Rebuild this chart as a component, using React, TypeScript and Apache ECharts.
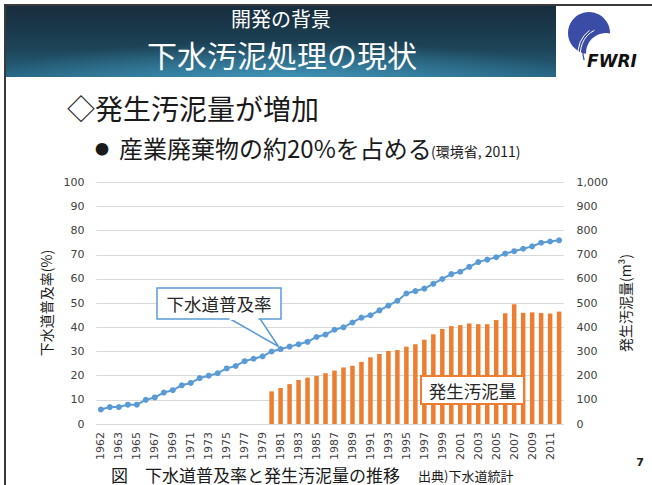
import React, { useEffect, useRef } from "react";
import * as echarts from "echarts";

const years = [
  "1962", "", "1963", "1964", "1965", "1966", "1967", "1968", "1969", "1970",
  "1971", "1972", "1973", "1974", "1975", "1976", "1977", "1978", "1979", "1980",
  "1981", "1982", "1983", "1984", "1985", "1986", "1987", "1988", "1989", "1990",
  "1991", "1992", "1993", "1994", "1995", "1996", "1997", "1998", "1999", "2000",
  "2001", "2002", "2003", "2004", "2005", "2006", "2007", "2008", "2009", "2010",
  "2011", "2012",
];

const sewerRate = [
  6, 7, 7, 8, 8, 10, 11, 13, 14, 16,
  17, 19, 20, 21, 23, 24, 26, 27, 28, 30,
  31, 32, 33, 34, 36, 37, 39, 40, 42, 44,
  45, 47, 49, 51, 54, 55, 56, 58, 60, 62,
  63, 65, 67, 68, 69, 70.5, 71.5, 72.5, 73.5, 75,
  75.5, 76,
];

const sludge = [
  null, null, null, null, null, null, null, null, null, null,
  null, null, null, null, null, null, null, null, null, 135,
  149, 165, 182, 192, 199, 210, 221, 234, 241, 257,
  276, 290, 302, 306, 320, 330, 349, 371, 393, 405,
  409, 416, 413, 413, 430, 458, 495, 460, 462, 459,
  457, 465,
];

const leftTicks = { min: 0, max: 100, interval: 10 };
const rightTicks = { min: 0, max: 1000, interval: 100 };

const JP = "'Noto Sans CJK JP', 'Noto Sans', sans-serif";
const NUM = "'DejaVu Sans', 'Noto Sans CJK JP', sans-serif";

export default function App() {
  const ref = useRef<HTMLDivElement>(null);

  useEffect(() => {
    if (!ref.current) return;
    const chart = echarts.init(ref.current, null, { renderer: "svg" });

    const graphics: any[] = [
      // slide frame
      { type: "line", shape: { x1: 4, y1: 5, x2: 652, y2: 5 }, style: { stroke: "#3a3a3a", lineWidth: 2 }, z: 50 },
      { type: "line", shape: { x1: 5, y1: 4, x2: 5, y2: 485 }, style: { stroke: "#3a3a3a", lineWidth: 2 }, z: 50 },
      // header band
      {
        type: "rect",
        shape: { x: 6, y: 6, width: 550, height: 71 },
        style: {
          fill: {
            type: "linear", x: 0, y: 0, x2: 0, y2: 1,
            colorStops: [
              { offset: 0, color: "#172d3d" },
              { offset: 0.6, color: "#1d4458" },
              { offset: 1, color: "#266683" },
            ],
          },
        },
        z: 10,
      },
      {
        type: "rect",
        shape: { x: 6, y: 6, width: 550, height: 71 },
        style: {
          fill: {
            type: "radial", x: 0.5, y: 1.05, r: 0.55,
            colorStops: [
              { offset: 0, color: "rgba(80,175,215,0.65)" },
              { offset: 1, color: "rgba(80,175,215,0)" },
            ],
          },
        },
        z: 11,
      },
      {
        type: "text", x: 281, y: 18, z: 12,
        style: { text: "開発の背景", fill: "#ffffff", font: `20px ${JP}`, align: "center", verticalAlign: "middle" },
      },
      {
        type: "text", x: 282, y: 54, z: 12,
        style: { text: "下水汚泥処理の現状", fill: "#ffffff", font: `30px ${JP}`, align: "center", verticalAlign: "middle" },
      },
      // logo
      { type: "circle", shape: { cx: 589, cy: 33, r: 21 }, style: { fill: "#3b4ca6" }, z: 12 },
      { type: "circle", shape: { cx: 606, cy: 53, r: 20 }, style: { fill: "#ffffff" }, z: 13 },
      { type: "arc", shape: { cx: 606, cy: 53, r: 23, startAngle: Math.PI * 0.9, endAngle: Math.PI * 1.45 }, style: { stroke: "#3b4ca6", lineWidth: 1.3, fill: "none" }, z: 14 },
      { type: "arc", shape: { cx: 606, cy: 53, r: 25.5, startAngle: Math.PI * 0.9, endAngle: Math.PI * 1.35 }, style: { stroke: "#ffffff", lineWidth: 1, fill: "none" }, z: 14 },
      { type: "arc", shape: { cx: 606, cy: 53, r: 28, startAngle: Math.PI * 0.95, endAngle: Math.PI * 1.3 }, style: { stroke: "#ffffff", lineWidth: 1, fill: "none" }, z: 14 },
      {
        type: "text", x: 612, y: 61, z: 15,
        style: { text: "FWRI", fill: "#111111", font: `italic bold 17px 'DejaVu Sans', sans-serif`, align: "center", verticalAlign: "middle" },
      },
      // headings
      {
        type: "text", x: 67, y: 108, z: 12,
        style: { text: "◇発生汚泥量が増加", fill: "#1a1a1a", font: `28px ${JP}`, align: "left", verticalAlign: "middle" },
      },
      {
        type: "text", x: 102, y: 148, z: 12,
        style: { text: "●", fill: "#1a1a1a", font: `14px ${JP}`, align: "center", verticalAlign: "middle" },
      },
      {
        type: "text", x: 119, y: 147, z: 12,
        style: { text: "産業廃棄物の約20%を占める", fill: "#1a1a1a", font: `24px ${JP}`, align: "left", verticalAlign: "middle" },
      },
      {
        type: "text", x: 431, y: 151, z: 12,
        style: { text: "(環境省, 2011)", fill: "#1a1a1a", font: `14px ${JP}`, align: "left", verticalAlign: "middle" },
      },
      // axis names
      {
        type: "text", x: 46, y: 303, rotation: Math.PI / 2, z: 12,
        style: { text: "下水道普及率(%)", fill: "#1a1a1a", font: `14px ${JP}`, align: "center", verticalAlign: "middle" },
      },
      {
        type: "text", x: 625, y: 303, rotation: Math.PI / 2, z: 12,
        style: { text: "発生汚泥量(m³)", fill: "#1a1a1a", font: `14px ${JP}`, align: "center", verticalAlign: "middle" },
      },
      // caption
      {
        type: "text", x: 111, y: 474, z: 12,
        style: { text: "図　下水道普及率と発生汚泥量の推移", fill: "#1a1a1a", font: `17px ${JP}`, align: "left", verticalAlign: "middle" },
      },
      {
        type: "text", x: 418, y: 475, z: 12,
        style: { text: "出典)下水道統計", fill: "#1a1a1a", font: `13px ${JP}`, align: "left", verticalAlign: "middle" },
      },
      {
        type: "text", x: 640, y: 462, z: 12,
        style: { text: "7", fill: "#1a1a1a", font: `bold 11px 'DejaVu Sans', sans-serif`, align: "center", verticalAlign: "middle" },
      },
      // callout: 下水道普及率
      {
        type: "polygon", z: 100,
        shape: { points: [[228.5, 318], [278.5, 346.5], [259.5, 318]] },
        style: { fill: "#ffffff", stroke: "#5b9bd5", lineWidth: 1.5 },
      },
      {
        type: "rect", z: 101,
        shape: { x: 157, y: 288, width: 124, height: 31 },
        style: { fill: "#ffffff", stroke: "#5b9bd5", lineWidth: 1.5 },
      },
      {
        type: "rect", z: 102,
        shape: { x: 229.5, y: 317, width: 29, height: 3 },
        style: { fill: "#ffffff" },
      },
      {
        type: "text", x: 219, y: 303.5, z: 103,
        style: { text: "下水道普及率", fill: "#262626", font: `17.5px ${JP}`, align: "center", verticalAlign: "middle" },
      },
      // callout: 発生汚泥量
      {
        type: "rect", z: 101,
        shape: { x: 421, y: 376, width: 103, height: 28 },
        style: { fill: "#ffffff", stroke: "#ed7d31", lineWidth: 2 },
      },
      {
        type: "text", x: 472.5, y: 390, z: 103,
        style: { text: "発生汚泥量", fill: "#262626", font: `17.5px ${JP}`, align: "center", verticalAlign: "middle" },
      },
    ];

    chart.setOption({
      animation: false,
      backgroundColor: "#ffffff",
      grid: { left: 96.4, right: 88.4, top: 182.3, bottom: 61, containLabel: false },
      xAxis: {
        type: "category",
        data: years,
        boundaryGap: true,
        axisLine: { lineStyle: { color: "#d9d9d9", width: 1 } },
        axisTick: { show: false },
        axisLabel: {
          interval: 1,
          rotate: 90,
          margin: 8,
          color: "#404040",
          fontSize: 11,
          fontFamily: NUM,
        },
      },
      yAxis: [
        {
          type: "value",
          ...leftTicks,
          axisLine: { show: false },
          axisTick: { show: false },
          splitLine: { lineStyle: { color: "#d9d9d9", width: 1 } },
          axisLabel: { margin: 12, color: "#404040", fontSize: 11, fontFamily: NUM },
        },
        {
          type: "value",
          ...rightTicks,
          position: "right",
          axisLine: { show: false },
          axisTick: { show: false },
          splitLine: { show: false },
          axisLabel: {
            margin: 13,
            color: "#404040",
            fontSize: 11,
            fontFamily: NUM,
            formatter: (v: number) => v.toLocaleString("en-US"),
          },
        },
      ],
      series: [
        {
          name: "発生汚泥量",
          type: "bar",
          yAxisIndex: 1,
          data: sludge,
          barWidth: "50%",
          itemStyle: { color: "#ed7d31" },
          z: 2,
        },
        {
          name: "下水道普及率",
          type: "line",
          yAxisIndex: 0,
          data: sewerRate,
          symbol: "circle",
          symbolSize: 6,
          showAllSymbol: true,
          lineStyle: { color: "#5b9bd5", width: 2 },
          itemStyle: { color: "#5b9bd5" },
          z: 3,
        },
      ],
      graphic: graphics,
    });

    return () => chart.dispose();
  }, []);

  return (
    <div
      ref={ref}
      style={{ position: "fixed", left: 0, top: 0, width: 652, height: 485, background: "#ffffff" }}
    />
  );
}
